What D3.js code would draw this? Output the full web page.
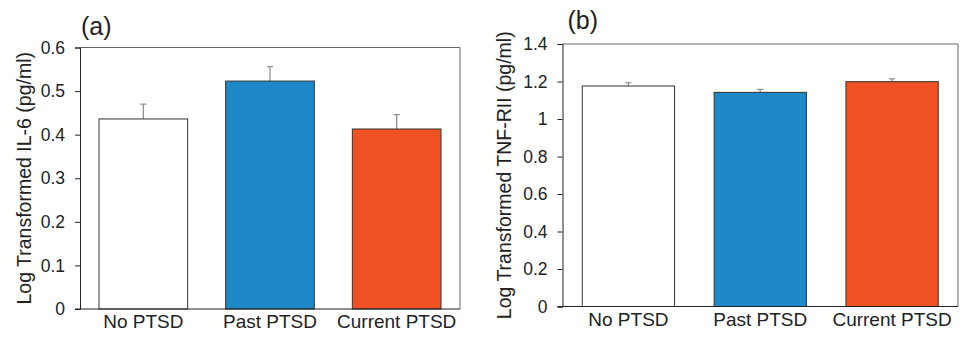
<!DOCTYPE html>
<html>
<head>
<meta charset="utf-8">
<script src="https://cdn.jsdelivr.net/npm/d3@7"></script>
<style>
  body { margin: 0; background: #fff; }
  svg { display: block; font-family: "Liberation Sans", Arial, sans-serif; }
</style>
</head>
<body>
<svg id="chart" width="965" height="337"></svg>
<script>
// groups, shared by both panels
var groups = ['No PTSD', 'Past PTSD', 'Current PTSD'];
var colors = ['#ffffff', '#1f88c9', '#f05123'];

// panel (a): IL-6
var il6Means = [0.436, 0.523, 0.413];
var il6Err = [0.034, 0.033, 0.033];
var il6Ticks = [0, 0.1, 0.2, 0.3, 0.4, 0.5, 0.6];

// panel (b): TNF-RII
var tnfMeans = [1.176, 1.142, 1.199];
var tnfErr = [0.017, 0.016, 0.015];
var tnfTicks = [0, 0.2, 0.4, 0.6, 0.8, 1, 1.2, 1.4];

var svg = d3.select('#chart');

function drawPanel(opt) {
  var x = d3.scaleBand().domain(groups).range([opt.left, opt.right]).paddingInner(0.3).paddingOuter(0.15);
  var y = d3.scaleLinear().domain([0, opt.max]).range([opt.bottom, opt.top]);
  var g = svg.append('g');

  // frame (top and right)
  g.append('path')
    .attr('d', 'M' + opt.left + ',' + opt.top + 'H' + opt.right + 'V' + opt.bottom)
    .attr('fill', 'none').attr('stroke', '#666').attr('stroke-width', 1);

  // error bars, drawn under the bars
  var data = groups.map(function(d, i) { return {k: d, v: opt.means[i], e: opt.err[i], c: colors[i]}; });
  var eb = g.selectAll('.eb').data(data).enter().append('g');
  eb.append('line')
    .attr('x1', function(d) { return x(d.k) + x.bandwidth() / 2; })
    .attr('x2', function(d) { return x(d.k) + x.bandwidth() / 2; })
    .attr('y1', function(d) { return y(d.v); })
    .attr('y2', function(d) { return y(d.v + d.e); })
    .attr('stroke', '#8a8a8a').attr('stroke-width', 1.2);
  eb.append('line')
    .attr('x1', function(d) { return x(d.k) + x.bandwidth() / 2 - 3; })
    .attr('x2', function(d) { return x(d.k) + x.bandwidth() / 2 + 3; })
    .attr('y1', function(d) { return y(d.v + d.e); })
    .attr('y2', function(d) { return y(d.v + d.e); })
    .attr('stroke', '#8a8a8a').attr('stroke-width', 1.2);

  g.selectAll('.bar').data(data).enter().append('rect')
    .attr('x', function(d) { return x(d.k); })
    .attr('y', function(d) { return y(d.v); })
    .attr('width', x.bandwidth())
    .attr('height', function(d) { return opt.bottom - y(d.v); })
    .attr('fill', function(d) { return d.c; })
    .attr('stroke', '#333').attr('stroke-width', 1);

  // y axis
  var yAxis = g.append('g')
    .attr('transform', 'translate(' + opt.left + ',0)')
    .call(d3.axisLeft(y).tickValues(opt.ticks).tickSize(5).tickPadding(10).tickFormat(function(d) { return String(d); }));
  yAxis.select('.domain').attr('stroke', '#222');
  yAxis.selectAll('.tick line').attr('stroke', '#222');
  yAxis.selectAll('text').attr('font-size', 17.5).attr('fill', '#222');

  // x axis
  var xAxis = g.append('g')
    .attr('transform', 'translate(0,' + opt.bottom + ')')
    .call(d3.axisBottom(x).tickSize(0).tickPadding(6));
  xAxis.select('.domain').attr('d', 'M' + (opt.left - 5) + ',0H' + opt.right).attr('stroke', '#222');
  xAxis.selectAll('text').attr('font-size', 19).attr('fill', '#222');

  // axis title
  g.append('text')
    .attr('transform', 'translate(' + opt.titleX + ',' + ((opt.top + opt.bottom) / 2) + ') rotate(-90)')
    .attr('text-anchor', 'middle')
    .attr('font-size', 19.5).attr('fill', '#222')
    .text(opt.title);

  // panel letter
  g.append('text')
    .attr('x', opt.letterX).attr('y', opt.letterY)
    .attr('font-size', 25).attr('fill', '#222')
    .text(opt.letter);
}

drawPanel({left: 80, right: 460, top: 47.5, bottom: 309, max: 0.6, means: il6Means, err: il6Err,
  ticks: il6Ticks, title: 'Log Transformed IL-6 (pg/ml)', titleX: 31, letter: '(a)', letterX: 81, letterY: 35});
drawPanel({left: 562.5, right: 958, top: 44, bottom: 306.5, max: 1.4, means: tnfMeans, err: tnfErr,
  ticks: tnfTicks, title: 'Log Transformed TNF-RII (pg/ml)', titleX: 510.5, letter: '(b)', letterX: 567.5, letterY: 29});
</script>
</body>
</html>
